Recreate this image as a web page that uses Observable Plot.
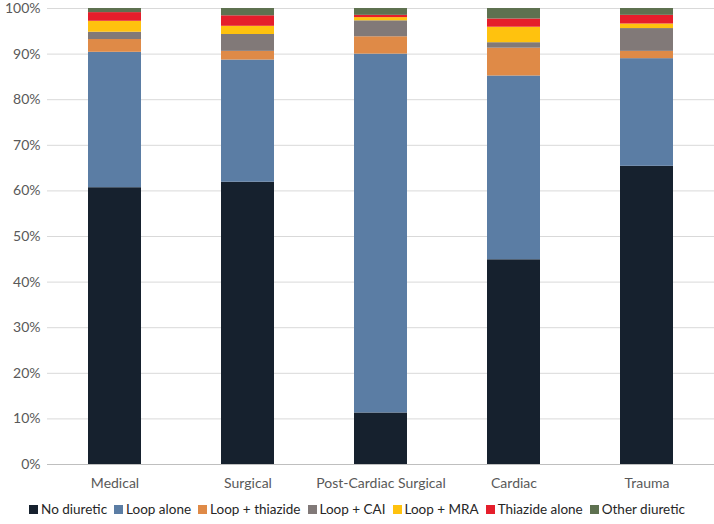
<!DOCTYPE html>
<html>
<head>
<meta charset="utf-8">
<script src="https://cdn.jsdelivr.net/npm/d3@7"></script>
<script src="https://cdn.jsdelivr.net/npm/@observablehq/plot@0.6"></script>
<style>
  html, body { margin: 0; padding: 0; background: #fff; }
  body { width: 714px; font-family: Lato, "Open Sans", sans-serif; }
  #legend { display: flex; justify-content: center; gap: 7px; font-size: 13.5px; color: #262626; margin-top: 9px; }
  #legend span.item { display: inline-flex; align-items: center; gap: 3px; white-space: nowrap; }
  #legend span.sw { width: 9px; height: 9px; display: inline-block; }
</style>
</head>
<body>
<div id="chart"></div>
<div id="legend"></div>
<script>
const categories = ["Medical", "Surgical", "Post-Cardiac Surgical", "Cardiac", "Trauma"];
const seriesNames = ["No diuretic", "Loop alone", "Loop + thiazide", "Loop + CAI", "Loop + MRA", "Thiazide alone", "Other diuretic"];
const colors = ["#16212e", "#5b7da4", "#df8a47", "#817978", "#ffc20e", "#e51e2b", "#5e7150"];
// values in percent, per series, in category order
const noDiuretic     = [60.7, 61.9, 11.3, 44.9, 65.4];
const loopAlone      = [29.7, 26.8, 78.7, 40.3, 23.6];
const loopThiazide   = [2.8, 1.9, 3.8, 6.1, 1.6];
const loopCAI        = [1.6, 3.7, 3.5, 1.2, 5.0];
const loopMRA        = [2.4, 1.8, 0.7, 3.4, 1.0];
const thiazideAlone  = [1.9, 2.3, 0.5, 1.8, 1.9];
const otherDiuretic  = [0.9, 1.6, 1.5, 2.3, 1.5];
const yTicks = [0, 10, 20, 30, 40, 50, 60, 70, 80, 90, 100];

const seriesValues = [noDiuretic, loopAlone, loopThiazide, loopCAI, loopMRA, thiazideAlone, otherDiuretic];
const data = [];
seriesNames.forEach((s, i) => categories.forEach((c, j) => data.push({category: c, series: s, value: seriesValues[i][j]})));

const chart = Plot.plot({
  width: 714,
  height: 492,
  marginTop: 8,
  marginBottom: 28,
  marginLeft: 47,
  marginRight: 0,
  style: {fontFamily: "Lato, 'Open Sans', sans-serif", fontSize: "14px", color: "#595959", background: "#fff"},
  x: {domain: categories, paddingInner: 0.6, paddingOuter: 0.3, label: null, tickSize: 0, tickPadding: 14},
  y: {domain: [0, 100], ticks: yTicks, tickFormat: d => d + "%", label: null, tickSize: 0, tickPadding: 7},
  color: {domain: seriesNames, range: colors},
  marks: [
    Plot.gridY(yTicks, {stroke: "#d9d9d9", strokeOpacity: 1}),
    Plot.barY(data, Plot.stackY({x: "category", y: "value", fill: "series", order: seriesNames})),
    Plot.ruleY([0], {stroke: "#bfbfbf", strokeWidth: 1})
  ]
});
document.getElementById("chart").appendChild(chart);

const legend = document.getElementById("legend");
seriesNames.forEach((s, i) => {
  const item = document.createElement("span");
  item.className = "item";
  const sw = document.createElement("span");
  sw.className = "sw";
  sw.style.background = colors[i];
  item.appendChild(sw);
  item.appendChild(document.createTextNode(s));
  legend.appendChild(item);
});
</script>
</body>
</html>
